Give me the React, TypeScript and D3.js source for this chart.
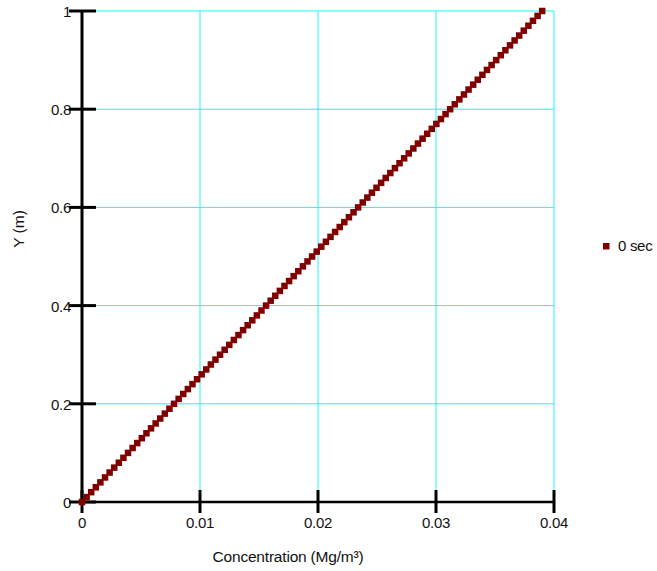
import React from "react";
import * as d3 from "d3";

// Concentration profile at t = 0 sec: Y (m) against concentration (Mg/m³)
const yValues: number[] = [
  0, 0.01, 0.02, 0.03, 0.04, 0.05, 0.06, 0.07, 0.08, 0.09,
  0.1, 0.11, 0.12, 0.13, 0.14, 0.15, 0.16, 0.17, 0.18, 0.19,
  0.2, 0.21, 0.22, 0.23, 0.24, 0.25, 0.26, 0.27, 0.28, 0.29,
  0.3, 0.31, 0.32, 0.33, 0.34, 0.35, 0.36, 0.37, 0.38, 0.39,
  0.4, 0.41, 0.42, 0.43, 0.44, 0.45, 0.46, 0.47, 0.48, 0.49,
  0.5, 0.51, 0.52, 0.53, 0.54, 0.55, 0.56, 0.57, 0.58, 0.59,
  0.6, 0.61, 0.62, 0.63, 0.64, 0.65, 0.66, 0.67, 0.68, 0.69,
  0.7, 0.71, 0.72, 0.73, 0.74, 0.75, 0.76, 0.77, 0.78, 0.79,
  0.8, 0.81, 0.82, 0.83, 0.84, 0.85, 0.86, 0.87, 0.88, 0.89,
  0.9, 0.91, 0.92, 0.93, 0.94, 0.95, 0.96, 0.97, 0.98, 0.99,
  1,
];

const concentration: number[] = [
  0, 0.00039, 0.00078, 0.00117, 0.00156, 0.00195, 0.00234, 0.00273, 0.00312, 0.00351,
  0.0039, 0.00429, 0.00468, 0.00507, 0.00546, 0.00585, 0.00624, 0.00663, 0.00702, 0.00741,
  0.0078, 0.00819, 0.00858, 0.00897, 0.00936, 0.00975, 0.01014, 0.01053, 0.01092, 0.01131,
  0.0117, 0.01209, 0.01248, 0.01287, 0.01326, 0.01365, 0.01404, 0.01443, 0.01482, 0.01521,
  0.0156, 0.01599, 0.01638, 0.01677, 0.01716, 0.01755, 0.01794, 0.01833, 0.01872, 0.01911,
  0.0195, 0.01989, 0.02028, 0.02067, 0.02106, 0.02145, 0.02184, 0.02223, 0.02262, 0.02301,
  0.0234, 0.02379, 0.02418, 0.02457, 0.02496, 0.02535, 0.02574, 0.02613, 0.02652, 0.02691,
  0.0273, 0.02769, 0.02808, 0.02847, 0.02886, 0.02925, 0.02964, 0.03003, 0.03042, 0.03081,
  0.0312, 0.03159, 0.03198, 0.03237, 0.03276, 0.03315, 0.03354, 0.03393, 0.03432, 0.03471,
  0.0351, 0.03549, 0.03588, 0.03627, 0.03666, 0.03705, 0.03744, 0.03783, 0.03822, 0.03861,
  0.039,
];

const xTicks: number[] = [0, 0.01, 0.02, 0.03, 0.04];
const xTickLabels: string[] = ["0", "0.01", "0.02", "0.03", "0.04"];
const yTicks: number[] = [0, 0.2, 0.4, 0.6, 0.8, 1];
const yTickLabels: string[] = ["0", "0.2", "0.4", "0.6", "0.8", "1"];
const seriesName = "0 sec";

const W = 657;
const H = 571;
const left = 82;
const right = 554;
const top = 11;
const bottom = 502;

const FONT = "'Liberation Sans', Arial, sans-serif";
const GRID = "#1ff6f6";
const MARK = "#800000";

export default function App() {
  const x = d3.scaleLinear().domain([0, 0.04]).range([left, right]);
  const y = d3.scaleLinear().domain([0, 1]).range([bottom, top]);
  const points = concentration.map((c, i) => ({ c, yv: yValues[i] }));
  const m = 6.5;

  return (
    <svg
      width={W}
      height={H}
      style={{ position: "absolute", left: 0, top: 0, background: "#fff" }}
    >
      {/* grid */}
      {xTicks.slice(1).map((t) => (
        <line key={"gx" + t} x1={x(t)} x2={x(t)} y1={top} y2={bottom} stroke={GRID} strokeWidth={1} />
      ))}
      {yTicks.slice(1).map((t) => (
        <line key={"gy" + t} x1={left} x2={right} y1={y(t)} y2={y(t)} stroke={GRID} strokeWidth={1} />
      ))}

      {/* axes */}
      <line x1={left} x2={right} y1={bottom} y2={bottom} stroke="#000" strokeWidth={2.5} />
      <line x1={left} x2={left} y1={top} y2={bottom} stroke="#000" strokeWidth={3} />

      {xTicks.map((t, i) => (
        <g key={"tx" + t}>
          <line x1={x(t)} x2={x(t)} y1={bottom - 12} y2={bottom + 11} stroke="#000" strokeWidth={3} />
          <text x={x(t)} y={bottom + 26} textAnchor="middle" fontFamily={FONT} fontSize={15} letterSpacing={-0.3} fill="#111">
            {xTickLabels[i]}
          </text>
        </g>
      ))}
      {yTicks.map((t, i) => (
        <g key={"ty" + t}>
          <line x1={left - 13} x2={left + 14} y1={y(t)} y2={y(t)} stroke="#000" strokeWidth={3} />
          <text x={left - 11} y={y(t) + 6} textAnchor="end" fontFamily={FONT} fontSize={15} letterSpacing={-0.3} fill="#111">
            {yTickLabels[i]}
          </text>
        </g>
      ))}

      {/* data markers */}
      {points.map((p, i) => (
        <rect key={"p" + i} x={x(p.c) - m / 2} y={y(p.yv) - m / 2} width={m} height={m} fill={MARK} />
      ))}

      {/* axis titles */}
      <text x={288} y={562} textAnchor="middle" fontFamily={FONT} fontSize={15.5} letterSpacing={-0.2} fill="#111">
        Concentration (Mg/m³)
      </text>
      <text
        transform={`translate(24,229) rotate(-90)`}
        textAnchor="middle"
        fontFamily={FONT}
        fontSize={15.5}
        fill="#111"
      >
        Y (m)
      </text>

      {/* legend */}
      <rect x={603} y={243} width={6.5} height={6.5} fill={MARK} />
      <text x={618} y={251} fontFamily={FONT} fontSize={15} letterSpacing={-0.3} fill="#111">
        {seriesName}
      </text>
    </svg>
  );
}
